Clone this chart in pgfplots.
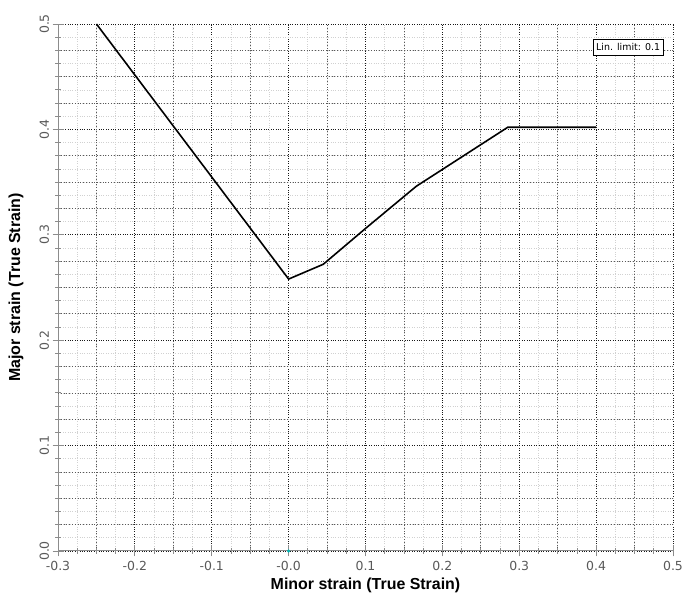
\documentclass[border=0pt]{standalone}
\usepackage{fontspec}
\setmainfont{Liberation Sans}
\newfontfamily\tickfont{DejaVu Sans}
\usepackage{pgfplots}
\pgfplotsset{compat=1.18}

\begin{document}
\begin{tikzpicture}
\begin{axis}[
    scale only axis,
    width=615bp, height=527bp,
    xmin=-0.3, xmax=0.5,
    ymin=0, ymax=0.5,
    axis lines*=left,
    axis line style={black!45, line width=1bp},
    clip=false,
    xtick={-0.3,-0.2,-0.1,0,0.1,0.2,0.3,0.4,0.5},
    ytick={0,0.1,0.2,0.3,0.4,0.5},
    xticklabels={-0.3,-0.2,-0.1,-0.0,0.1,0.2,0.3,0.4,0.5},
    yticklabels={0.0,0.1,0.2,0.3,0.4,0.5},
    minor x tick num=3,
    minor y tick num=7,
    grid=both,
    major grid style={black!90, dotted, line width=0.8bp},
    minor grid style={black!18, dotted, line width=0.7bp},
    extra x ticks={-0.25,-0.15,-0.05,0.05,0.15,0.25,0.35,0.45},
    extra y ticks={0.025,0.05,0.075,0.125,0.15,0.175,0.225,0.25,0.275,0.325,0.35,0.375,0.425,0.45,0.475},
    extra x tick labels={},
    extra y tick labels={},
    extra tick style={grid=major, major grid style={black!65, dotted, line width=0.7bp}, major tick length=6bp},
    tick align=center,
    major tick length=11bp,
    minor tick length=6bp,
    tick style={black!45, line width=0.8bp},
    ticklabel style={font=\tickfont\fontsize{12.5}{14}\selectfont, text=black!65},
    xticklabel style={yshift=-1bp},
    yticklabel style={rotate=90, anchor=south},
    xlabel={Minor strain (True Strain)},
    ylabel={Major strain (True Strain)},
    label style={font=\bfseries\fontsize{16}{18}\selectfont},
    xlabel style={at={(axis description cs:0.5,0)}, anchor=center, yshift=-34bp},
    ylabel style={at={(axis description cs:0,0.5)}, anchor=center, yshift=42bp},
]

% forming limit curve
\addplot[black, line width=1.6bp] coordinates {
    (-0.25,0.500)
    (0.000,0.258)
    (0.045,0.272)
    (0.100,0.306)
    (0.166,0.346)
    (0.285,0.402)
    (0.400,0.402)
};

% small marker at origin
\addplot[only marks, mark=*, mark size=1.4bp, color=teal!60!cyan, draw opacity=0.8] coordinates {(0,0)};

\node[draw=black, fill=white, line width=0.6bp, inner xsep=3bp, inner ysep=4bp,
      font=\tickfont\fontsize{9.5}{11}\selectfont] at (axis cs:0.4416,0.478) {Lin. limit: 0.1};

\coordinate (sw) at (rel axis cs:0,0);
\coordinate (ne) at (rel axis cs:1,1);
\end{axis}
\pgfresetboundingbox
\path[use as bounding box] ([shift={(-58bp,-48bp)}]sw) rectangle ([shift={(10bp,24bp)}]ne);
\end{tikzpicture}
\end{document}
